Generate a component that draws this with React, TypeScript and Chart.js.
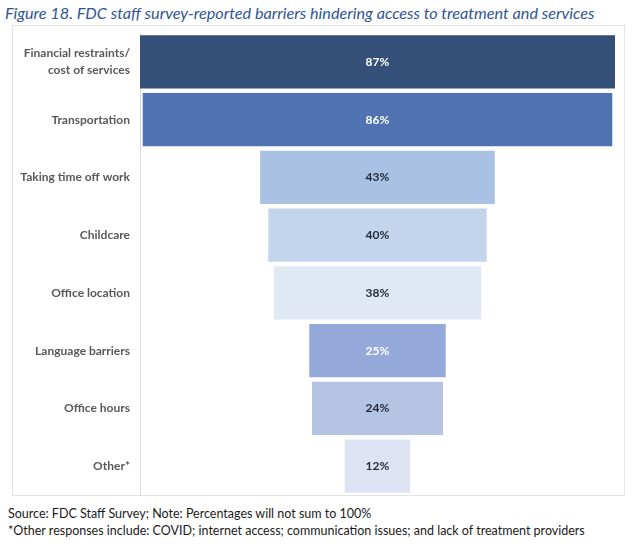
import React, { useEffect, useRef } from "react";
import { Chart, registerables } from "chart.js";

Chart.register(...registerables);

const categories: (string | string[])[] = [
  ["Financial restraints/", "cost of services"],
  "Transportation",
  "Taking time off work",
  "Childcare",
  "Office location",
  "Language barriers",
  "Office hours",
  "Other*",
];
const values: number[] = [87, 86, 43, 40, 38, 25, 24, 12];
const barColors: string[] = [
  "#345079",
  "#4F73B1",
  "#A9C2E4",
  "#C3D5EC",
  "#E0E8F4",
  "#95A8DA",
  "#B7C3E3",
  "#DDE3F2",
];
const valueLabelColors: string[] = [
  "#FFFFFF",
  "#FFFFFF",
  "#1F2937",
  "#1F2937",
  "#1F2937",
  "#FFFFFF",
  "#1F2937",
  "#1F2937",
];
const titleText =
  "Figure 18. FDC staff survey-reported barriers hindering access to treatment and services";
const noteLines: string[] = [
  "Source: FDC Staff Survey; Note: Percentages will not sum to 100%",
  "*Other responses include: COVID; internet access; communication issues; and lack of treatment providers",
];

const maxVal = Math.max(...values);

const valueLabelPlugin = {
  id: "valueLabels",
  afterDatasetsDraw(chart: any) {
    const ctx = chart.ctx;
    const meta = chart.getDatasetMeta(0);
    ctx.save();
    ctx.font = "bold 12px Lato, 'Open Sans', sans-serif";
    ctx.textAlign = "center";
    ctx.textBaseline = "middle";
    meta.data.forEach((el: any, i: number) => {
      const cx = (el.x + el.base) / 2;
      ctx.fillStyle = valueLabelColors[i];
      ctx.fillText(values[i] + "%", cx, el.y);
    });
    ctx.restore();
  },
};

export default function App() {
  const ref = useRef<HTMLCanvasElement | null>(null);
  useEffect(() => {
    if (!ref.current) return;
    const chart = new Chart(ref.current, {
      type: "bar",
      data: {
        labels: categories,
        datasets: [
          {
            data: values.map((v) => [-v / 2, v / 2]) as any,
            backgroundColor: barColors,
            borderWidth: 0,
            barPercentage: 0.92,
            categoryPercentage: 1,
          },
        ],
      },
      options: {
        indexAxis: "y",
        animation: false,
        responsive: false,
        maintainAspectRatio: false,
        layout: { padding: { left: 0, right: 10, top: 8, bottom: 1 } },
        plugins: {
          legend: { display: false },
          tooltip: { enabled: false },
        },
        scales: {
          x: {
            display: false,
            min: -maxVal / 2,
            max: maxVal / 2,
          },
          y: {
            afterFit: (scale: any) => {
              scale.width = 128;
              scale.paddingTop = 0;
              scale.paddingBottom = 0;
            },
            grid: { display: false },
            border: { display: true, color: "#D9D9D9", width: 1 },
            ticks: {
              padding: 2,
              color: "#595959",
              font: {
                family: "Lato, 'Open Sans', sans-serif",
                size: 12,
                weight: "bold",
                lineHeight: 1.4,
              },
            },
          },
        },
      },
      plugins: [valueLabelPlugin],
    });
    return () => chart.destroy();
  }, []);

  return (
    <div
      style={{
        position: "absolute",
        left: 0,
        top: 0,
        width: 640,
        height: 549,
        background: "#FFFFFF",
        fontFamily: "Lato, 'Open Sans', sans-serif",
      }}
    >
      <div
        style={{
          position: "absolute",
          left: 5,
          top: 3,
          fontSize: 16.2,
          fontStyle: "italic",
          color: "#2F5597",
          whiteSpace: "nowrap",
          lineHeight: "20px",
        }}
      >
        {titleText}
      </div>
      <div
        style={{
          position: "absolute",
          left: 12,
          top: 25,
          width: 613,
          height: 471,
          border: "1px solid #E3E3E3",
          boxSizing: "border-box",
        }}
      />
      <canvas
        ref={ref}
        width={613}
        height={471}
        style={{ position: "absolute", left: 12, top: 25, width: 613, height: 471 }}
      />
      {noteLines.map((t, i) => (
        <div
          key={i}
          style={{
            position: "absolute",
            left: 8,
            top: 505 + i * 17,
            fontSize: 12.5,
            color: "#1A1A1A",
            whiteSpace: "nowrap",
            lineHeight: "17px",
          }}
        >
          {t}
        </div>
      ))}
    </div>
  );
}
